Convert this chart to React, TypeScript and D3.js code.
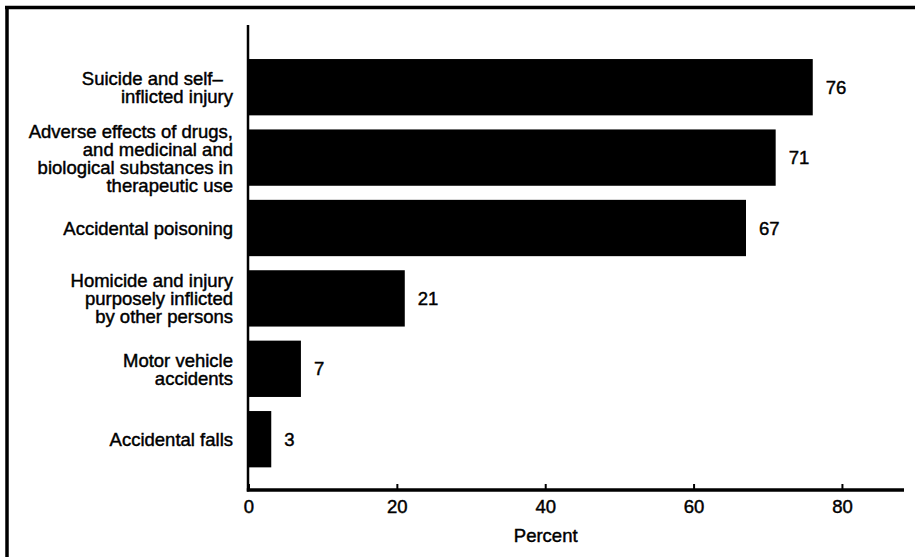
import React from "react";
import * as d3 from "d3";

const categories: string[][] = [
  ["Suicide and self\u2013\u00A0\u00A0", "inflicted injury"],
  ["Adverse effects of drugs,", "and medicinal and", "biological substances in", "therapeutic use"],
  ["Accidental poisoning"],
  ["Homicide and injury", "purposely inflicted", "by other persons"],
  ["Motor vehicle", "accidents"],
  ["Accidental falls"],
];
const values: number[] = [76, 71, 67, 21, 7, 3];
const xTicks: number[] = [0, 20, 40, 60, 80];
const xLabel = "Percent";

const W = 915;
const H = 557;
const FONT = "'Liberation Sans', Arial, Helvetica, sans-serif";
const FS = 18.5;

export default function App() {
  const x = d3.scaleLinear().domain([0, 88.3]).range([249, 904]);
  const ids = categories.map((_, i) => String(i));
  const y = d3
    .scaleBand<string>()
    .domain(ids)
    .range([52, 474.4])
    .paddingInner(0.2)
    .paddingOuter(0.1);
  const axisY = 490;
  const lineH = 18;
  const textProps = {
    fontSize: FS,
    fill: "#000",
    stroke: "#000",
    strokeWidth: 0.45,
  };

  return (
    <svg
      width={W}
      height={H}
      style={{ position: "absolute", left: 0, top: 0, background: "#fff" }}
      fontFamily={FONT}
    >
      <rect x={0} y={0} width={W} height={H} fill="#fff" />
      {/* frame */}
      <line x1={5} y1={7.5} x2={W} y2={7.5} stroke="#000" strokeWidth={3.5} />
      <line x1={7} y1={6} x2={7} y2={H} stroke="#000" strokeWidth={3.5} />

      {/* bars */}
      {values.map((v, i) => (
        <rect
          key={"b" + i}
          x={x(0)}
          y={y(ids[i])!}
          width={x(v) - x(0)}
          height={y.bandwidth()}
          fill="#000"
        />
      ))}

      {/* value labels */}
      {values.map((v, i) => (
        <text key={"v" + i} x={x(v) + 13} y={y(ids[i])! + y.bandwidth() / 2 + 6.5} {...textProps}>
          {v}
        </text>
      ))}

      {/* category labels */}
      {categories.map((lines, i) => {
        const c = y(ids[i])! + y.bandwidth() / 2;
        const first = c - ((lines.length - 1) / 2) * lineH + 7;
        return (
          <text key={"c" + i} textAnchor="end" {...textProps}>
            {lines.map((l, j) => (
              <tspan key={j} x={233} y={first + j * lineH}>
                {l}
              </tspan>
            ))}
          </text>
        );
      })}

      {/* y axis */}
      <line x1={248} y1={25} x2={248} y2={axisY + 1.5} stroke="#000" strokeWidth={2.5} />
      {/* x axis */}
      <line x1={246.8} y1={axisY} x2={x.range()[1]} y2={axisY} stroke="#000" strokeWidth={3.5} />
      {xTicks.map((t) => (
        <g key={"t" + t}>
          <line x1={x(t)} y1={axisY - 6} x2={x(t)} y2={axisY} stroke="#000" strokeWidth={2} />
          <text x={x(t)} y={axisY + 23} textAnchor="middle" {...textProps}>
            {t}
          </text>
        </g>
      ))}
      <text x={(x(0) + x(80)) / 2} y={542} textAnchor="middle" {...textProps}>
        {xLabel}
      </text>
    </svg>
  );
}
